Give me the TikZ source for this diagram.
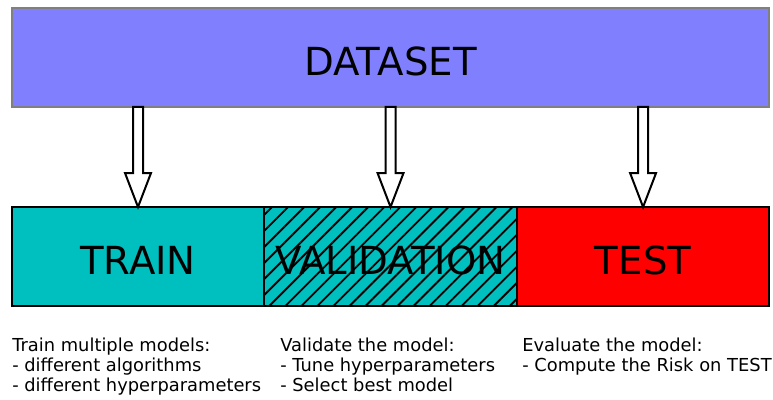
\documentclass[tikz,border=0pt]{standalone}
\usepackage{fontspec}
\setmainfont{DejaVu Sans}
\usetikzlibrary{positioning,calc,patterns.meta}
\definecolor{dsblue}{HTML}{8080FF}
\definecolor{splitcyan}{HTML}{00BFBF}
\tikzset{
  databox/.style={draw=gray,line width=1.5pt,fill=dsblue,minimum width=567.75pt,minimum height=74.25pt,
                  outer sep=0pt,text height=27pt,text depth=0pt,font=\fontsize{29}{33}\selectfont},
  splitbox/.style={draw,line width=1.5pt,minimum width=189.4pt,minimum height=74.25pt,outer sep=0pt,
                   inner sep=0pt,text height=27pt,text depth=0pt,font=\fontsize{29}{33}\selectfont},
  hatch/.style={postaction={pattern={Lines[angle=45,distance=8.5pt,line width=1.4pt]}}},
  fatarrow/.style={draw,line width=1.5pt,fill=white,line join=miter},
  note/.style={anchor=north west,align=left,inner sep=0pt,font=\fontsize{13.4}{14.7}\selectfont},
}

\begin{document}
\begin{tikzpicture}[x=0.75pt,y=-0.75pt]
  \useasboundingbox (0,0) rectangle (773,399);
  \node[databox] (dataset) at (390.5,57.5) {DATASET};
  \node[splitbox,fill=splitcyan] (train) at (138,256.5) {TRAIN};
  \node[splitbox,fill=splitcyan,hatch,right=0pt of train] (valid) {VALIDATION};
  \node[splitbox,fill=red,right=0pt of valid] (test) {TEST};
  % block arrows from the dataset down to each split
  \foreach \s in {train,valid,test}
    \draw[fatarrow] let \p1=(dataset.south -| \s.north), \p2=(\s.north) in
      (\x1-3.75pt,\y1) -- (\x1-3.75pt,\y2+25.5pt) -- (\x1-9.75pt,\y2+25.5pt) -- (\x2,\y2)
      -- (\x1+9.75pt,\y2+25.5pt) -- (\x1+3.75pt,\y2+25.5pt) -- (\x1+3.75pt,\y1) -- cycle;
  \node[note] (trainnote) at (12,338) {Train multiple models:\\- different algorithms\\- different hyperparameters};
  \node[note] (validnote) at (280,338) {Validate the model:\\- Tune hyperparameters\\- Select best model};
  \node[note] (testnote) at (522,338) {Evaluate the model:\\- Compute the Risk on TEST};
\end{tikzpicture}
\end{document}
